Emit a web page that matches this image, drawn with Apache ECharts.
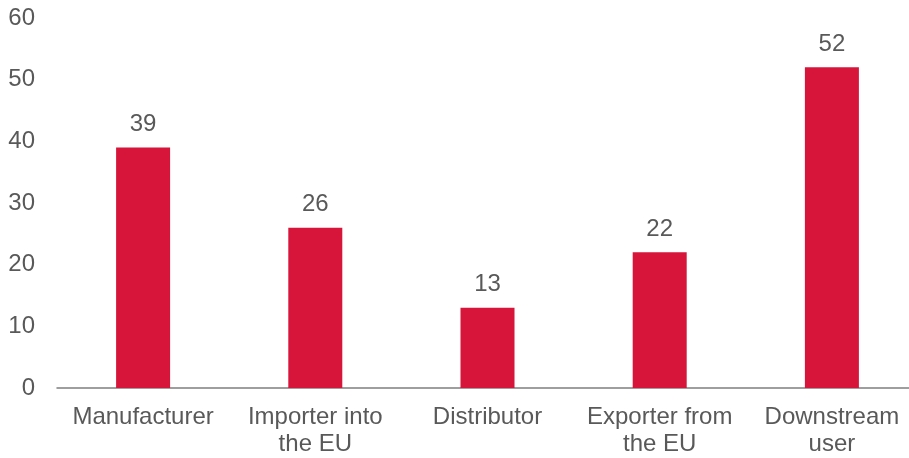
<!DOCTYPE html>
<html>
<head>
<meta charset="utf-8">
<script src="https://cdn.jsdelivr.net/npm/echarts@6/dist/echarts.min.js"></script>
<style>
  html, body { margin: 0; padding: 0; background: #fff; overflow: hidden; }
  #chart { width: 918px; height: 458px; }
</style>
</head>
<body>
<div id="chart"></div>
<script>
const categories = ['Manufacturer', 'Importer into\nthe EU', 'Distributor', 'Exporter from\nthe EU', 'Downstream\nuser'];
const values = [39, 26, 13, 22, 52];
const yTicks = [0, 10, 20, 30, 40, 50, 60];

const textColor = '#595959';
const font = '"Liberation Sans", Arial, sans-serif';

const myChart = echarts.init(document.getElementById('chart'));

const option = {
  animation: false,
  grid: {
    left: 57,
    right: 0,
    top: 18,
    bottom: 69,
    containLabel: false
  },
  xAxis: {
    type: 'category',
    data: categories,
    axisLine: { show: true, lineStyle: { color: '#7f7f7f', width: 1.5 } },
    axisTick: { show: false },
    axisLabel: {
      color: textColor,
      fontFamily: font,
      fontSize: 24,
      lineHeight: 27,
      margin: 16,
      interval: 0
    }
  },
  yAxis: {
    type: 'value',
    min: yTicks[0],
    max: yTicks[yTicks.length - 1],
    interval: 10,
    axisLine: { show: false },
    axisTick: { show: false },
    splitLine: { show: false },
    axisLabel: {
      color: textColor,
      fontFamily: font,
      fontSize: 24,
      margin: 22
    }
  },
  series: [
    {
      type: 'bar',
      data: values,
      barWidth: 54,
      itemStyle: { color: '#d7153a' },
      label: {
        show: true,
        position: 'top',
        distance: 11,
        color: textColor,
        fontFamily: font,
        fontSize: 24
      }
    }
  ]
};

myChart.setOption(option);
</script>
</body>
</html>
